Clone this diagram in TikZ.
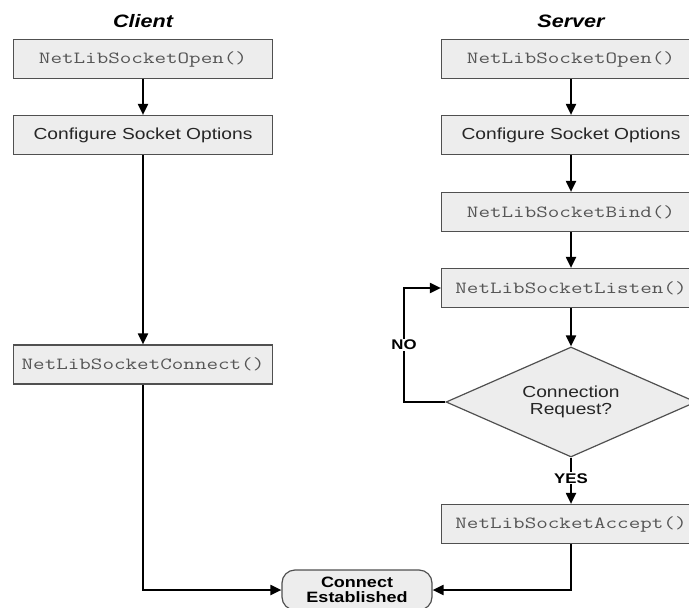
\documentclass[tikz,border=0pt]{standalone}
\usepackage{fontspec}
\setmainfont{Liberation Sans}[FakeStretch=1.2]
\setmonofont{Latin Modern Mono}[FakeStretch=1.32]
\usetikzlibrary{shapes.geometric,arrows.meta}
\definecolor{boxfill}{HTML}{EDEDED}
\definecolor{boxline}{HTML}{505050}
\definecolor{codetext}{HTML}{555555}
\begin{document}
\begin{tikzpicture}[x=1pt,y=-1pt,
  flowbox/.style={draw=boxline,line width=1.2pt,fill=boxfill,minimum width=259pt,
    minimum height=39pt,inner sep=0pt},
  codebox/.style={flowbox,font=\ttfamily\fontsize{17}{18}\selectfont,text=codetext},
  textbox/.style={flowbox,font=\fontsize{16}{18}\selectfont,text=black!85},
  decision/.style={diamond,draw=boxline,line width=1.2pt,fill=boxfill,aspect=2.27,
    minimum width=250pt,minimum height=110pt,inner sep=0pt,align=center,
    font=\fontsize{16}{17}\selectfont,text=black!85},
  endbox/.style={draw=boxline,line width=1.2pt,fill=boxfill,rounded corners=13pt,
    minimum width=150pt,minimum height=40pt,inner sep=0pt,align=center,
    font=\bfseries\fontsize{15}{15}\selectfont},
  heading/.style={font=\bfseries\itshape\fontsize{18}{20}\selectfont},
  flowlabel/.style={fill=white,inner sep=1pt,font=\bfseries\fontsize{14}{16}\selectfont},
  flow/.style={line width=2pt,-{Triangle[length=11pt,width=10pt]}}]
\useasboundingbox (0,0) rectangle (689,608);

% column headings
\node[heading] (hc) at (143,21) {Client};
\node[heading] (hs) at (571,21) {Server};

% client side
\node[codebox] (copen) at (143,59) {NetLibSocketOpen()};
\node[textbox] (cconf) at (143,135) {Configure Socket Options};
\node[codebox] (cconn) at (143,364.5) {NetLibSocketConnect()};

% server side
\node[codebox] (sopen) at (571,59) {NetLibSocketOpen()};
\node[textbox] (sconf) at (571,135) {Configure Socket Options};
\node[codebox] (sbind) at (571,212) {NetLibSocketBind()};
\node[codebox] (slist) at (571,288) {NetLibSocketListen()};
\node[decision] (sreq) at (571,402) {Connection\\Request?};
\node[codebox] (sacc) at (571,524) {NetLibSocketAccept()};

% common end state
\node[endbox] (done) at (357,590) {Connect\\Established};

% routing points
\coordinate (noleft) at (404,402);
\coordinate (noup) at (404,288);
\coordinate (cdown) at (143,590);
\coordinate (sdown) at (571,590);

% client connectors
\draw[flow] (copen) -- (cconf);
\draw[flow] (cconf) -- (cconn);
\draw[flow] (cconn) -- (cdown) -- (done);

% server connectors
\draw[flow] (sopen) -- (sconf);
\draw[flow] (sconf) -- (sbind);
\draw[flow] (sbind) -- (slist);
\draw[flow] (slist) -- (sreq);
\draw[flow] (sreq.west) -- (noleft) -- node[flowlabel,pos=0.5] (lno) {NO} (noup) -- (slist.west);
\draw[flow] (sreq.south) -- node[flowlabel,pos=0.45] (lyes) {YES} (sacc.north);
\draw[flow] (sacc) -- (sdown) -- (done);
\end{tikzpicture}
\end{document}
